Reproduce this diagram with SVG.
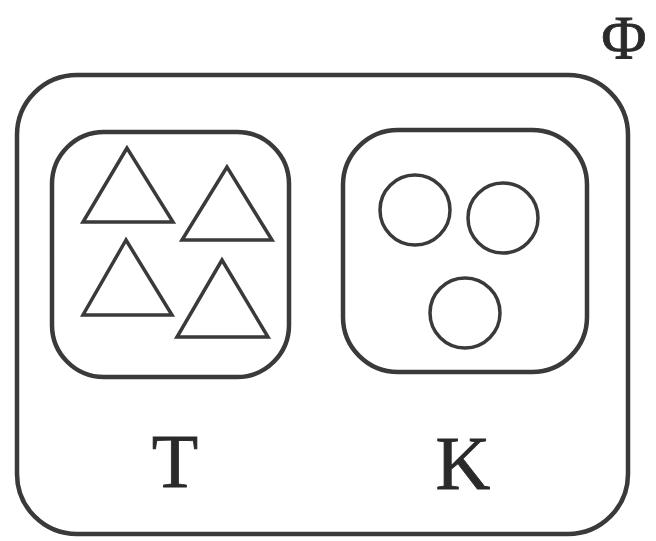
<svg xmlns="http://www.w3.org/2000/svg" width="656" height="541" viewBox="0 0 656 541">
<style>
.box{fill:none;stroke:#3a3a3a;stroke-width:4.5}
.shape{fill:none;stroke:#3a3a3a;stroke-width:3.5;stroke-linejoin:miter}
.lbl{font-family:"Liberation Serif","Times New Roman",serif;fill:#2a2a2a;stroke:#2a2a2a;stroke-width:0.8}
</style>
<rect width="656" height="541" fill="#ffffff"/>
<g id="phi">
<rect class="box" x="17" y="75" width="611" height="459" rx="60" ry="60"/>
<text class="lbl" x="624" y="58" font-size="62" text-anchor="middle">Φ</text>
</g>
<g id="T">
<rect class="box" x="52" y="132" width="237" height="245" rx="52" ry="52"/>
<polygon class="shape" points="127,148 83,222 173,222"/>
<polygon class="shape" points="227,167 182,240 272,240"/>
<polygon class="shape" points="126,240 83,315 172,315"/>
<polygon class="shape" points="222,260 177,337 268,337"/>
<text class="lbl" x="175" y="487" font-size="76" text-anchor="middle">T</text>
</g>
<g id="K">
<rect class="box" x="343" y="130" width="244" height="242" rx="55" ry="55"/>
<circle class="shape" cx="415" cy="210" r="35"/>
<circle class="shape" cx="503" cy="218" r="35"/>
<circle class="shape" cx="465" cy="313" r="35"/>
<text class="lbl" x="463" y="489" font-size="76" text-anchor="middle">K</text>
</g>
<g id="connectors"/>
</svg>
